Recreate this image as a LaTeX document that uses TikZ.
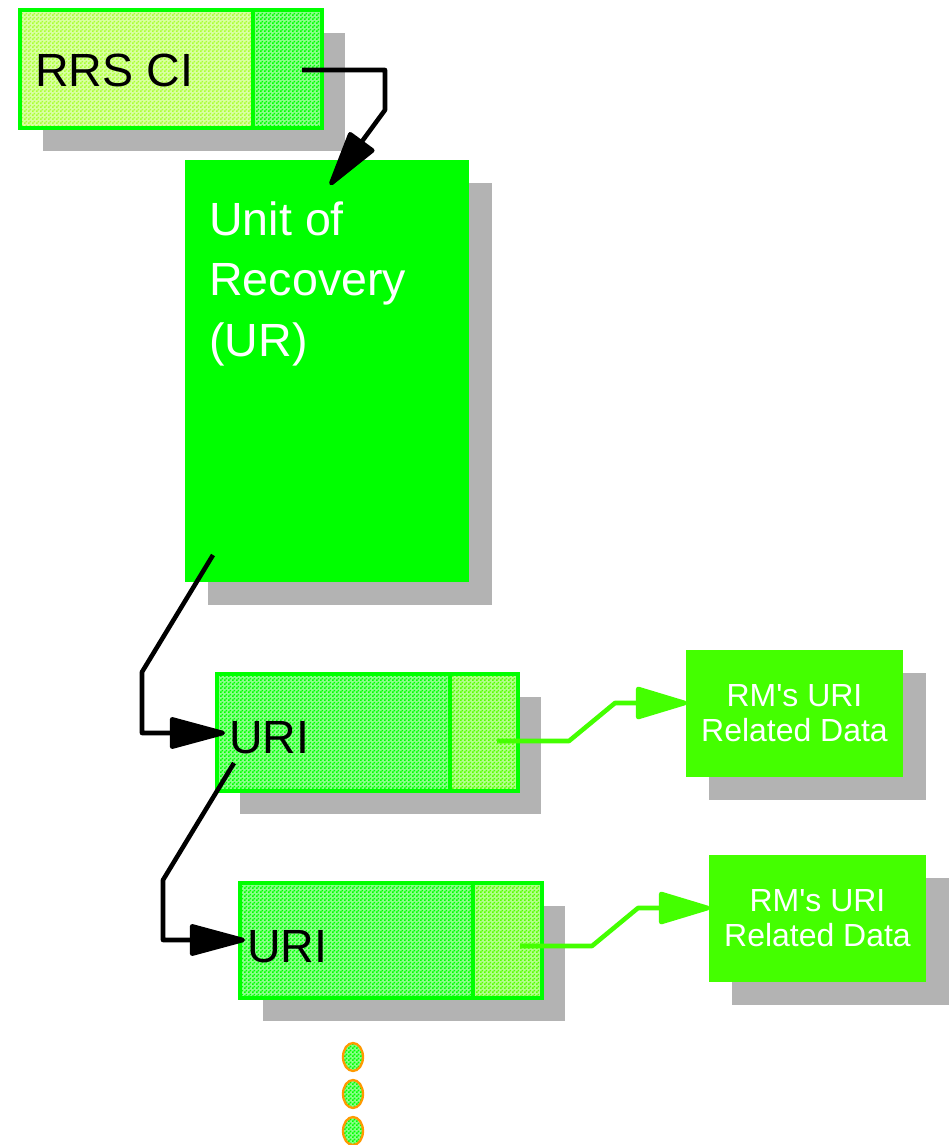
\documentclass[tikz,border=0pt]{standalone}
\usepackage{fontspec}
\setmainfont{Liberation Sans}
\usepackage{xcolor}
\definecolor{urgreen}{RGB}{0,255,0}
\definecolor{datagreen}{RGB}{68,255,0}
\definecolor{limegreen}{RGB}{170,255,51}
\definecolor{tailgreen}{RGB}{85,255,0}
\definecolor{shadowgray}{RGB}{179,179,179}
\definecolor{dotorange}{RGB}{255,153,0}
\usepackage{tikz}
\usetikzlibrary{arrows.meta}
\usetikzlibrary{shadows}
\usetikzlibrary{patterns.meta}
\usetikzlibrary{shapes.geometric}
\newcommand{\unitpx}{0.02cm}
\tikzdeclarepattern{
    name=finecheck,
    type=uncolored,
    bottom left={(0pt,0pt)},
    top right={(2.28pt,2.28pt)},
    tile size={(2.28pt,2.28pt)},
    code={
        \pgfpathrectangle{\pgfpointorigin}{\pgfqpoint{1.14pt}{1.14pt}}
        \pgfpathrectangle{\pgfqpoint{1.14pt}{1.14pt}}{\pgfqpoint{1.14pt}{1.14pt}}
        \pgfusepath{fill}
    }
}
\tikzset{
    shadowed/.style={drop shadow={shadow xshift=23*\unitpx, shadow yshift=-23*\unitpx, fill=shadowgray, opacity=1}},
    common/.style={anchor=north west, rectangle, inner sep=0pt, outer sep=0pt},
    checkbox/.style={common, draw=urgreen, line width=2.2pt, preaction={fill=#1!45!white}, pattern=finecheck, pattern color=#1},
    solidbox/.style={common, fill=#1},
    boxtext/.style={font=\fontsize{26.5}{34.5}\selectfont, inner sep=0pt, anchor=base west},
    datatext/.style={text=white, align=center, font=\fontsize{18.2}{19.9}\selectfont},
    link/.style={line width=2.6pt, line join=round, -{Triangle[length=1.24cm, width=0.64cm, round]}},
    datalink/.style={link, datagreen, -{Triangle[length=1.14cm, width=0.66cm, round]}},
    dot/.style={ellipse, draw=dotorange, line width=1.3pt, preaction={fill=urgreen!45!white}, pattern=finecheck, pattern color=urgreen,
        minimum width=20*\unitpx, minimum height=28*\unitpx, inner sep=0pt}
}
\begin{document}
\begin{tikzpicture}[x=\unitpx, y=-\unitpx]
    \useasboundingbox (0,0) rectangle (949,1145);

    \node[shadowed, checkbox=limegreen, minimum width=302*\unitpx, minimum height=118*\unitpx] (rrs) at (20,10) {};
    \node[checkbox=urgreen, anchor=north east, minimum width=69*\unitpx, minimum height=118*\unitpx] (rrs-tail) at (rrs.north east) {};
    \node[boxtext] (rrs-text) at (35,87) {RRS CI};

    \node[shadowed, solidbox=urgreen, minimum width=284*\unitpx, minimum height=422*\unitpx] (ur) at (185,160) {};
    \node[boxtext, text=white, align=left, anchor=north west] (ur-text) at (209,201) {Unit of\\Recovery\\(UR)};

    \node[shadowed, checkbox=urgreen, minimum width=301*\unitpx, minimum height=117*\unitpx] (uri1) at (217,674) {};
    \node[checkbox=tailgreen, anchor=north east, minimum width=68*\unitpx, minimum height=117*\unitpx] (uri1-tail) at (uri1.north east) {};
    \node[boxtext] (uri1-text) at (229,753) {URI};

    \node[shadowed, checkbox=urgreen, minimum width=302*\unitpx, minimum height=115*\unitpx] (uri2) at (240,883) {};
    \node[checkbox=tailgreen, anchor=north east, minimum width=69*\unitpx, minimum height=115*\unitpx] (uri2-tail) at (uri2.north east) {};
    \node[boxtext] (uri2-text) at (247,962) {URI};

    \node[shadowed, solidbox=datagreen, datatext, minimum width=217*\unitpx, minimum height=127*\unitpx] (data1) at (686,650) {RM\textquotesingle s URI\\Related Data};
    \node[shadowed, solidbox=datagreen, datatext, minimum width=217*\unitpx, minimum height=127*\unitpx] (data2) at (709,855) {RM\textquotesingle s URI\\Related Data};

    \foreach \y in {1057,1094,1131}
        \node[dot] (dot-\y) at (353,\y) {};

    \coordinate (rrs-out) at (302,70);
    \coordinate (ur-in) at (330,185);
    \coordinate (ur-out) at (213,555);
    \coordinate (uri1-in) at (225,733);
    \coordinate (uri1-out) at (234,763);
    \coordinate (uri2-in) at (245,940);
    \coordinate (uri1-link) at (497,741);
    \coordinate (data1-in) at (687,703);
    \coordinate (uri2-link) at (520,946);
    \coordinate (data2-in) at (710,908);

    \draw[link] (rrs-out) -- ++(83,0) -- ++(0,40) -- (ur-in);
    \draw[link] (ur-out) -- ++(-71,117) |- (uri1-in);
    \draw[link] (uri1-out) -- ++(-71,117) |- (uri2-in);
    \draw[datalink] (uri1-link) -- ++(72,0) -- ++(46,-38) -- (data1-in);
    \draw[datalink] (uri2-link) -- ++(72,0) -- ++(46,-38) -- (data2-in);
\end{tikzpicture}
\end{document}
